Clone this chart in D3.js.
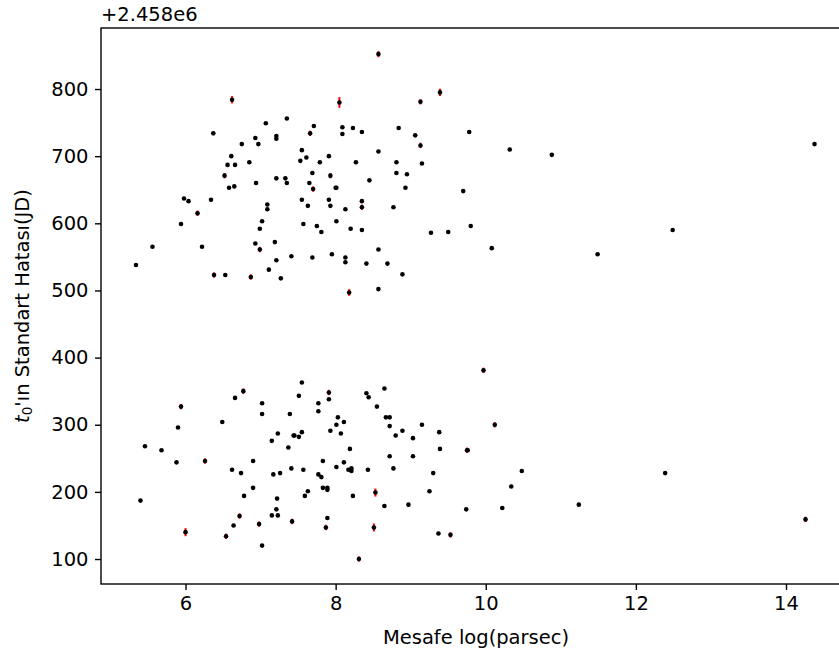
<!DOCTYPE html>
<html>
<head>
<meta charset="utf-8">
<script src="https://cdn.jsdelivr.net/npm/d3@7"></script>
<style>
  body { margin: 0; background: #fff; }
  svg { display: block; }
  text { font-family: "DejaVu Sans", sans-serif; }
</style>
</head>
<body>
<svg id="chart" width="839" height="655"></svg>
<script>
// Log distance (parsec) of each source
const distanceLog = [
  6.62, 8.05, 7.35, 7.07, 6.37, 7.71, 8.09, 8.09, 7.66, 7.21, 7.21, 6.93, 6.97, 6.75, 7.55, 6.61,
  7.61, 7.53, 7.91, 7.79, 6.85, 6.56, 6.66, 7.69, 6.52, 7.93, 7.21, 7.33, 7.35, 6.94, 6.58, 6.65,
  7.65, 7.70, 8.00, 8.01, 5.98, 6.04, 6.34, 7.09, 7.09, 7.55, 7.91, 7.63, 7.93, 8.13, 6.16, 5.94,
  7.02, 6.99, 7.57, 7.75, 7.81, 8.01, 8.20, 5.56, 6.22, 6.93, 6.99, 7.19, 7.41, 7.69, 7.95, 8.13,
  8.13, 7.21, 5.34, 6.38, 6.53, 6.87, 7.11, 7.27, 8.18, 8.57, 9.39, 9.13, 8.23, 8.35, 8.84, 9.06,
  9.78, 9.13, 8.57, 10.32, 10.88, 8.27, 8.81, 9.15, 8.81, 8.95, 8.45, 8.93, 9.70, 8.35, 8.35, 8.77,
  8.35, 9.27, 9.50, 9.80, 10.08, 8.57, 8.41, 8.69, 8.89, 8.57, 14.38, 12.49, 11.49,
  7.55, 7.51, 6.77, 6.66, 7.91, 7.91, 5.94, 7.02, 7.02, 7.39, 7.77, 7.77, 8.03, 8.11, 8.01, 6.49,
  5.90, 7.23, 7.44, 7.45, 7.51, 7.55, 7.15, 7.93, 8.07, 7.37, 8.19, 5.46, 5.68, 5.88, 6.26, 6.62,
  6.74, 6.90, 7.17, 7.26, 7.41, 7.57, 7.77, 7.81, 7.83, 8.01, 8.11, 8.17, 8.21, 8.21, 5.40, 6.78,
  6.90, 7.22, 7.21, 7.15, 7.23, 7.59, 7.63, 7.83, 7.89, 7.89, 7.89, 7.87, 7.42, 6.72, 6.64, 6.98,
  6.00, 6.54, 7.02, 9.97, 8.41, 8.44, 8.65, 8.55, 8.67, 8.72, 8.72, 8.89, 8.80, 9.03, 9.15, 9.38,
  9.39, 10.12, 9.75, 9.76, 8.72, 9.03, 8.43, 8.77, 9.30, 10.48, 10.34, 11.24, 10.22, 9.74, 9.25, 8.97,
  8.65, 8.23, 8.53, 8.51, 9.37, 9.53, 8.31, 12.39, 14.26
];

// Standard error of t0, in JD minus 2458000
const t0Offset = [
  784, 780, 756, 749, 734, 745, 743, 733, 734, 730, 726, 727, 718, 718, 709, 700,
  698, 693, 700, 691, 691, 687, 687, 675, 671, 671, 667, 667, 660, 660, 653, 655,
  660, 651, 653, 653, 637, 633, 635, 628, 621, 635, 635, 626, 626, 621, 615, 599,
  603, 592, 599, 596, 587, 603, 592, 565, 565, 570, 561, 572, 551, 549, 554, 549,
  542, 545, 538, 523, 523, 520, 531, 518, 497, 852, 795, 781, 742, 736, 742, 731,
  736, 716, 707, 710, 702, 691, 691, 689, 675, 673, 664, 653, 648, 633, 624, 624,
  590, 586, 587, 596, 563, 561, 540, 540, 524, 502, 718, 590, 554,
  363, 343, 350, 340, 348, 338, 327, 332, 316, 316, 332, 320, 311, 304, 300, 304,
  296, 287, 284, 284, 282, 289, 276, 291, 287, 266, 264, 268, 262, 244, 246, 233,
  228, 246, 226, 228, 235, 233, 226, 222, 246, 237, 244, 233, 235, 231, 187, 194,
  206, 190, 174, 165, 165, 194, 201, 206, 206, 203, 161, 147, 156, 164, 150, 152,
  140, 134, 120, 381, 347, 341, 354, 327, 311, 311, 298, 291, 284, 280, 300, 289,
  264, 300, 262, 262, 253, 253, 233, 235, 228, 231, 208, 181, 176, 174, 201, 181,
  179, 194, 199, 147, 138, 136, 100, 228, 159
];

// Uncertainty of each t0 value (days)
const t0Err = [
  5.5, 8, 1.5, 1.5, 1.5, 1.5, 1.5, 1.5, 4, 1.5, 1.5, 1.5, 1.5, 1.5, 1.5, 1.5,
  1.5, 1.5, 1.5, 1.5, 1.5, 1.5, 1.5, 1.5, 4, 4, 1.5, 1.5, 1.5, 1.5, 1.5, 1.5,
  1.5, 4, 1.5, 1.5, 1.5, 1.5, 1.5, 1.5, 1.5, 1.5, 1.5, 1.5, 1.5, 1.5, 4, 1.5,
  1.5, 1.5, 1.5, 1.5, 1.5, 1.5, 1.5, 1.5, 1.5, 1.5, 4, 1.5, 1.5, 1.5, 1.5, 1.5,
  1.5, 1.5, 1.5, 4, 1.5, 4, 1.5, 1.5, 5, 4.5, 5.5, 4, 1.5, 1.5, 1.5, 1.5,
  1.5, 4, 1.5, 1.5, 1.5, 1.5, 1.5, 1.5, 1.5, 1.5, 1.5, 1.5, 1.5, 1.5, 4, 1.5,
  1.5, 1.5, 1.5, 1.5, 1.5, 1.5, 1.5, 1.5, 1.5, 1.5, 1.5, 1.5, 1.5,
  1.5, 1.5, 4, 1.5, 4, 1.5, 4, 1.5, 1.5, 1.5, 1.5, 1.5, 1.5, 1.5, 1.5, 1.5,
  1.5, 1.5, 1.5, 1.5, 1.5, 1.5, 1.5, 1.5, 1.5, 1.5, 1.5, 1.5, 1.5, 1.5, 4, 1.5,
  1.5, 1.5, 1.5, 1.5, 1.5, 1.5, 1.5, 1.5, 1.5, 1.5, 1.5, 1.5, 1.5, 1.5, 1.5, 1.5,
  1.5, 1.5, 1.5, 1.5, 1.5, 1.5, 1.5, 1.5, 1.5, 1.5, 1.5, 4, 4, 4, 1.5, 4,
  6, 4, 1.5, 4, 1.5, 1.5, 1.5, 1.5, 1.5, 1.5, 1.5, 1.5, 1.5, 1.5, 1.5, 1.5,
  1.5, 4, 4, 1.5, 1.5, 1.5, 1.5, 1.5, 1.5, 1.5, 1.5, 1.5, 1.5, 1.5, 1.5, 1.5,
  1.5, 1.5, 6, 6, 1.5, 4, 4, 1.5, 4
];

const xTicks = [6, 8, 10, 12, 14];
const yTicks = [100, 200, 300, 400, 500, 600, 700, 800];
const xLabel = "Mesafe log(parsec)";
const yLabelRest = "'ın Standart Hatası(JD)";
const offsetLabel = "+2.458e6";

const points = distanceLog.map((d, i) => ({ x: d, y: t0Offset[i], e: t0Err[i] }));

const svg = d3.select("#chart");
const plot = { left: 101, top: 28, right: 851, bottom: 584 };
const fontSize = 19.5;
const tickLen = 6, tickPad = 6.5;

const x = d3.scaleLinear().domain([4.874, 14.866]).range([plot.left, plot.right]);
const y = d3.scaleLinear().domain([62.8, 890.9]).range([plot.bottom, plot.top]);

// error bars (red) behind the markers
svg.append("g")
  .selectAll("line")
  .data(points)
  .join("line")
  .attr("x1", d => x(d.x)).attr("x2", d => x(d.x))
  .attr("y1", d => y(d.y - d.e)).attr("y2", d => y(d.y + d.e))
  .attr("stroke", "#ff0000")
  .attr("stroke-width", 2);

// markers
svg.append("g")
  .selectAll("circle")
  .data(points)
  .join("circle")
  .attr("cx", d => x(d.x))
  .attr("cy", d => y(d.y))
  .attr("r", 2.3)
  .attr("fill", "#000");

// axes
const xAxis = svg.append("g")
  .attr("transform", `translate(0,${plot.bottom})`)
  .call(d3.axisBottom(x).tickValues(xTicks).tickFormat(d3.format("d")).tickSize(tickLen).tickPadding(tickPad));
const yAxis = svg.append("g")
  .attr("transform", `translate(${plot.left},0)`)
  .call(d3.axisLeft(y).tickValues(yTicks).tickFormat(d3.format("d")).tickSize(tickLen).tickPadding(tickPad));

[xAxis, yAxis].forEach(g => {
  g.select(".domain").remove();
  g.selectAll(".tick line").attr("stroke", "#000").attr("stroke-width", 1.4);
  g.selectAll(".tick text")
    .attr("fill", "#000")
    .style("font-size", fontSize + "px")
    .style("font-family", "'DejaVu Sans', sans-serif");
});

// frame
svg.append("rect")
  .attr("x", plot.left).attr("y", plot.top)
  .attr("width", plot.right - plot.left).attr("height", plot.bottom - plot.top)
  .attr("fill", "none").attr("stroke", "#000").attr("stroke-width", 1.4);

// axis labels
svg.append("text")
  .attr("x", (plot.left + plot.right) / 2)
  .attr("y", 644)
  .attr("text-anchor", "middle")
  .style("font-size", fontSize + "px")
  .attr("fill", "#000")
  .text(xLabel);

const yl = svg.append("text")
  .attr("transform", `translate(29,${(plot.top + plot.bottom) / 2}) rotate(-90)`)
  .attr("text-anchor", "middle")
  .style("font-size", fontSize + "px")
  .attr("fill", "#000");
yl.append("tspan").style("font-style", "italic").text("t");
yl.append("tspan").attr("baseline-shift", "-22%").style("font-size", (fontSize * 0.7) + "px").text("0");
yl.append("tspan").text(yLabelRest);

// offset text above the y axis
svg.append("text")
  .attr("x", plot.left)
  .attr("y", 21)
  .style("font-size", fontSize + "px")
  .attr("fill", "#000")
  .text(offsetLabel);
</script>
</body>
</html>
